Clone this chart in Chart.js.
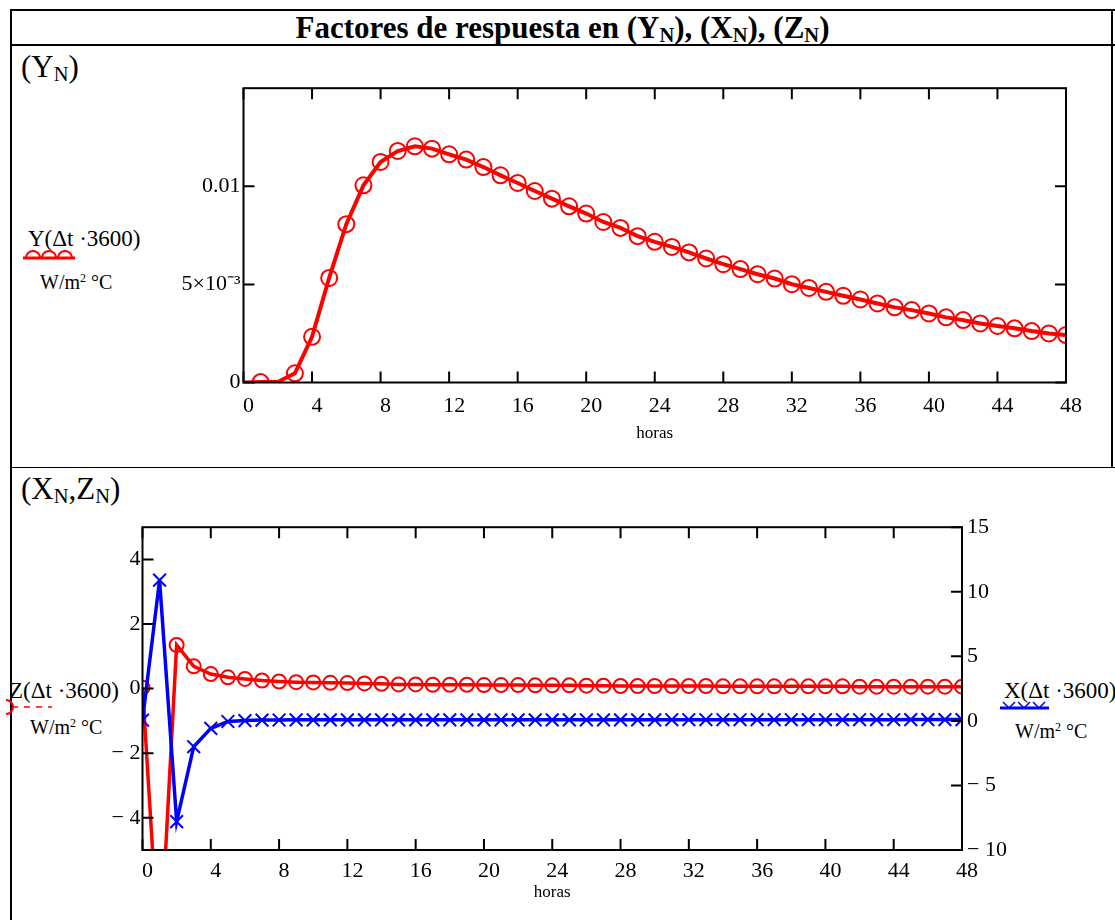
<!DOCTYPE html>
<html>
<head>
<meta charset="utf-8">
<script src="https://cdn.jsdelivr.net/npm/chart.js@4.4.0/dist/chart.umd.min.js"></script>
<style>
  body { margin: 0; background: #fff; width: 1115px; height: 920px; overflow: hidden; position: relative;
         font-family: "Liberation Serif", "Times New Roman", serif; color: #000; }
  .abs { position: absolute; }
  .hl { position: absolute; background: #000; }
  .title { left: 10px; width: 1105px; top: 11px; text-align: center; font-weight: bold; font-size: 31px; line-height: 34px; }
  .sub { font-size: 0.66em; vertical-align: -0.2em; }
  .sec { font-size: 31px; line-height: 34px; }
  .leg { font-size: 23px; line-height: 24px; white-space: nowrap; }
  .unit { font-size: 20px; line-height: 22px; white-space: nowrap; }
  .unit sup { font-size: 0.6em; vertical-align: 0.6em; line-height: 0; }
  .wrap { position: absolute; }
</style>
</head>
<body>
<!-- table frame -->
<div class="hl" style="left:10px; top:9px; width:1105px; height:2px;"></div>
<div class="hl" style="left:10px; top:9px; width:2px; height:911px;"></div>
<div class="hl" style="left:10px; top:44px; width:1105px; height:2px;"></div>
<div class="hl" style="left:10px; top:467px; width:1105px; height:1px;"></div>
<div class="hl" style="left:1111px; top:9px; width:2px; height:459px;"></div>

<div class="abs title">Factores de respuesta en (Y<span class="sub">N</span>), (X<span class="sub">N</span>), (Z<span class="sub">N</span>)</div>
<div class="abs sec" style="left:21px; top:50px;">(Y<span class="sub">N</span>)</div>
<div class="abs sec" style="left:21px; top:472px;">(X<span class="sub">N</span>,Z<span class="sub">N</span>)</div>

<!-- legend labels, Y -->
<div class="abs leg" style="left:28px; top:227px;">Y(Δt ·3600)</div>
<svg class="abs" style="left:22px; top:248px;" width="56" height="14">
  <line x1="1" y1="10" x2="53" y2="10" stroke="#f00" stroke-width="3"/>
  <path d="M4 10 A7 7 0 0 1 18 10 M20 10 A7 7 0 0 1 34 10 M36 10 A7 7 0 0 1 50 10" fill="none" stroke="#f00" stroke-width="2"/>
</svg>
<div class="abs unit" style="left:40px; top:271px;">W/m<sup>2</sup> °C</div>

<!-- legend labels, Z -->
<div class="abs leg" style="left:9px; top:679px;">Z(Δt ·3600)</div>
<svg class="abs" style="left:0px; top:698px;" width="56" height="18">
  <line x1="12" y1="9" x2="52" y2="9" stroke="#f00" stroke-width="1.5" stroke-dasharray="6,6"/>
  <path d="M6 2 A7 7 0 0 1 6 16" fill="none" stroke="#f00" stroke-width="2"/>
</svg>
<div class="abs unit" style="left:30px; top:716px;">W/m<sup>2</sup> °C</div>

<!-- legend labels, X -->
<div class="abs leg" style="left:1004px; top:679px;">X(Δt ·3600)</div>
<svg class="abs" style="left:999px; top:698px;" width="52" height="14">
  <line x1="1" y1="10" x2="50" y2="10" stroke="#00f" stroke-width="3"/>
  <path d="M4 4 L10 10 L16 4 M19 4 L25 10 L31 4 M34 4 L40 10 L46 4" fill="none" stroke="#00f" stroke-width="1.5"/>
</svg>
<div class="abs unit" style="left:1015px; top:720px;">W/m<sup>2</sup> °C</div>

<div class="wrap" style="left:150px; top:72px;"><canvas id="chartY" width="938" height="378"></canvas></div>
<div class="wrap" style="left:60px; top:509px;"><canvas id="chartXZ" width="970" height="406"></canvas></div>

<script>
// hours n (Δt = 1 h)
const hours = [0, 1, 2, 3, 4, 5, 6, 7, 8, 9, 10, 11, 12, 13, 14, 15, 16, 17, 18, 19, 20, 21, 22, 23, 24,
               25, 26, 27, 28, 29, 30, 31, 32, 33, 34, 35, 36, 37, 38, 39, 40, 41, 42, 43, 44, 45, 46, 47, 48];

// Y_N, W/m2 °C
const yFactors = [0, 0.00002, 0.00003, 0.00047, 0.00233, 0.00533, 0.00807, 0.01005, 0.01124, 0.0118,
                  0.01204, 0.01192, 0.01163, 0.01136, 0.01098, 0.01056, 0.01017, 0.00976, 0.00937, 0.00898,
                  0.00861, 0.00818, 0.00788, 0.00746, 0.00717, 0.00691, 0.00663, 0.00632, 0.00603, 0.00578,
                  0.00552, 0.0053, 0.00501, 0.00482, 0.00462, 0.00442, 0.00423, 0.00403, 0.00383, 0.00369,
                  0.00352, 0.00332, 0.00318, 0.00301, 0.00288, 0.00276, 0.00262, 0.0025, 0.00242];
// marker shown or not (Mathcad skipped a couple)
const yMarkers = [0, 1, 0, 1, 1, 1, 1, 1, 1, 1, 1, 1, 1, 1, 1, 1, 1, 1, 1, 1, 1, 1, 1, 1, 1,
                  1, 1, 1, 1, 1, 1, 1, 1, 1, 1, 1, 1, 1, 1, 1, 1, 1, 1, 1, 1, 1, 1, 1, 1];

// Z_N (left axis) and X_N (right axis)
const zFactors = [0.03, -8.5, 1.35, 0.69, 0.45, 0.35, 0.30, 0.25, 0.22, 0.20,
                  0.19, 0.18, 0.17, 0.16, 0.15, 0.13, 0.13, 0.12, 0.12, 0.12,
                  0.11, 0.11, 0.11, 0.10, 0.10, 0.10, 0.09, 0.09, 0.08, 0.08,
                  0.08, 0.08, 0.08, 0.08, 0.07, 0.07, 0.07, 0.07, 0.07, 0.07,
                  0.07, 0.07, 0.06, 0.06, 0.06, 0.06, 0.06, 0.06, 0.06];
const xFactors = [0.06, 10.9, -7.8, -2.0, -0.58, -0.05, 0.02, 0.06, 0.07, 0.08,
                  0.08, 0.08, 0.08, 0.08, 0.08, 0.08, 0.08, 0.08, 0.08, 0.08,
                  0.08, 0.08, 0.08, 0.08, 0.08, 0.08, 0.08, 0.08, 0.08, 0.08,
                  0.08, 0.09, 0.09, 0.09, 0.09, 0.09, 0.09, 0.09, 0.09, 0.09,
                  0.09, 0.09, 0.09, 0.09, 0.09, 0.1, 0.1, 0.1, 0.1];

// tick labels
const hourTicks = [0, 4, 8, 12, 16, 20, 24, 28, 32, 36, 40, 44, 48];
const yTicks = [0, 0.005, 0.01];
const yTickLabels = ['0', '5×10⁻³', '0.01'];
const zTicks = [-4, -2, 0, 2, 4];
const zTickLabels = ['− 4', '− 2', '0', '2', '4'];
const xTicks = [-10, -5, 0, 5, 10, 15];
const xTickLabels = ['− 10', '− 5', '0', '5', '10', '15'];

const tickFont = { family: '"Liberation Serif", serif', size: 22 };
const titleFont = { family: '"Liberation Serif", serif', size: 17 };

// Mathcad style box with inward ticks
const framePlugin = {
    id: 'frame',
    afterDatasetsDraw(chart) {
        const { ctx, chartArea: a } = chart;
        const len = 11;
        ctx.save();
        ctx.strokeStyle = '#000';
        ctx.lineWidth = 2;
        ctx.strokeRect(a.left, a.top, a.right - a.left, a.bottom - a.top);
        const vert = Object.values(chart.scales).filter(s => !s.isHorizontal());
        ctx.beginPath();
        Object.values(chart.scales).forEach(s => {
            s.ticks.forEach(t => {
                const p = s.getPixelForValue(t.value);
                if (s.isHorizontal()) {
                    ctx.moveTo(p, a.bottom); ctx.lineTo(p, a.bottom - len);
                    ctx.moveTo(p, a.top); ctx.lineTo(p, a.top + len);
                } else {
                    if (s.position === 'left' || vert.length === 1) {
                        ctx.moveTo(a.left, p); ctx.lineTo(a.left + len, p);
                    }
                    if (s.position === 'right' || vert.length === 1) {
                        ctx.moveTo(a.right, p); ctx.lineTo(a.right - len, p);
                    }
                }
            });
        });
        ctx.stroke();
        ctx.restore();
    }
};

function hourAxis(height, labelPad, titlePad) {
    return {
        type: 'linear', min: 0, max: 48,
        grid: { display: false, drawTicks: false }, border: { display: false },
        afterBuildTicks: s => { s.ticks = hourTicks.map(v => ({ value: v })); },
        afterFit: s => { s.height = height; },
        ticks: { color: '#000', font: tickFont, padding: labelPad, labelOffset: 5, maxRotation: 0, autoSkip: false },
        title: { display: true, text: 'horas', color: '#000', font: titleFont, padding: { top: 0, bottom: titlePad } }
    };
}

function valueAxis(pos, min, max, vals, labels, width, pad) {
    return {
        type: 'linear', position: pos, min: min, max: max,
        grid: { display: false, drawTicks: false }, border: { display: false },
        afterBuildTicks: s => { s.ticks = vals.map(v => ({ value: v })); },
        afterFit: s => { s.width = width; },
        ticks: {
            color: '#000', font: tickFont, padding: pad, autoSkip: false,
            callback: v => labels[vals.indexOf(v)]
        }
    };
}

const common = {
    responsive: false,
    devicePixelRatio: 1,
    animation: false,
    plugins: { legend: { display: false }, tooltip: { enabled: false } }
};

new Chart(document.getElementById('chartY'), {
    type: 'line',
    data: {
        datasets: [{
            data: hours.map((h, i) => ({ x: h, y: yFactors[i] })),
            borderColor: '#ff0000',
            borderWidth: 4,
            tension: 0,
            clip: 0,
            pointStyle: 'circle',
            pointRadius: yMarkers.map(m => m ? 8 : 0),
            pointBorderWidth: 2,
            pointBorderColor: '#ff0000',
            pointBackgroundColor: 'rgba(0,0,0,0)'
        }]
    },
    options: {
        ...common,
        layout: { padding: { top: 12, right: 15, left: 0, bottom: 0 } },
        scales: {
            x: hourAxis(67.5, 11, 6),
            y: valueAxis('left', 0, 0.015, yTicks, yTickLabels, 93.5, 3)
        }
    },
    plugins: [framePlugin]
});

new Chart(document.getElementById('chartXZ'), {
    type: 'line',
    data: {
        datasets: [{
            data: hours.map((h, i) => ({ x: h, y: xFactors[i] })),
            yAxisID: 'y1',
            order: 0,
            borderColor: '#0000ff',
            borderWidth: 3.5,
            tension: 0,
            clip: 0,
            pointStyle: 'crossRot',
            pointRadius: 9,
            pointBorderWidth: 2,
            pointBorderColor: '#0000ff'
        }, {
            data: hours.map((h, i) => ({ x: h, y: zFactors[i] })),
            yAxisID: 'y',
            order: 1,
            borderColor: '#ff0000',
            borderWidth: 3.5,
            tension: 0,
            clip: 0,
            pointStyle: 'circle',
            pointRadius: 7,
            pointBorderWidth: 2,
            pointBorderColor: '#ff0000',
            pointBackgroundColor: 'rgba(0,0,0,0)'
        }]
    },
    options: {
        ...common,
        layout: { padding: { top: 12, right: 0, left: 0, bottom: 0 } },
        scales: {
            x: hourAxis(65, 8, 12),
            y: valueAxis('left', -5, 5, zTicks, zTickLabels, 82.5, 2),
            y1: valueAxis('right', -10, 15, xTicks, xTickLabels, 68, 5)
        }
    },
    plugins: [framePlugin]
});
</script>
</body>
</html>
